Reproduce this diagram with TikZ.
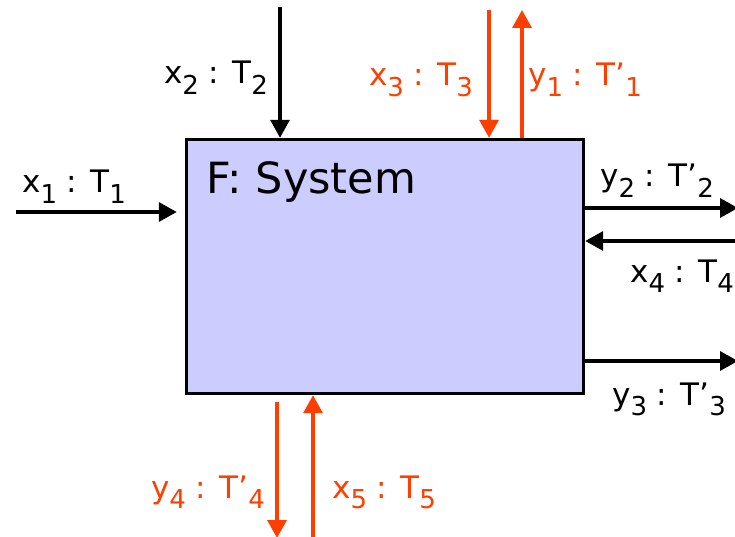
\documentclass[tikz,border=0pt]{standalone}
\usepackage{fontspec}
\setmainfont{DejaVu Sans}
\usepackage{tikz}
\usetikzlibrary{arrows.meta}
\definecolor{flowred}{RGB}{255,62,0}
\definecolor{sysfill}{RGB}{204,204,255}
\newcommand\sbs[1]{\raisebox{-0.33em}{\fontsize{26}{30}\selectfont #1}}

\begin{document}
\begin{tikzpicture}[x=1pt,y=-1pt,>={Triangle[length=18pt,width=19pt]},
  flow/.style={->,line width=3.4pt},
  lbl/.style={inner sep=0pt,font=\fontsize{31}{36}\selectfont},
  sysbox/.style={draw,line width=3.4pt,fill=sysfill,inner sep=0pt,
    minimum width=397pt,minimum height=254pt}]
\useasboundingbox (0,0) rectangle (735,537);
\node[sysbox] (F) at (385,266.5) {};
\node[anchor=base west,inner sep=0pt,font=\fontsize{43}{50}\selectfont] (title) at (206,194) {F: System};
% free ends
\coordinate (x1s) at (16,212);
\coordinate (x2s) at (280,7);
\coordinate (x3s) at (489,10);
\coordinate (y1e) at (522,10);
\coordinate (y2e) at (738,208);
\coordinate (x4s) at (738,241);
\coordinate (y3e) at (738,361);
\coordinate (y4s) at (277,402);
\coordinate (y4e) at (277,538);
\coordinate (x5s) at (313,538);
% inputs and outputs
\draw[flow] (x1s) -- ([xshift=-8pt]x1s -| F.west);
\draw[flow] (x2s) -- (x2s |- F.north);
\draw[flow,flowred] (x3s) -- (x3s |- F.north);
\draw[flow,flowred] (y1e |- F.north) -- (y1e);
\draw[flow] (y2e -| F.east) -- (y2e);
\draw[flow] (x4s) -- (x4s -| F.east);
\draw[flow] (y3e -| F.east) -- (y3e);
\draw[flow,flowred] (y4s) -- (y4e);
\draw[flow,flowred] (x5s) -- (x5s |- F.south);
% labels
\node[lbl,anchor=base west] (lx1) at (22,193) {x\sbs{1} : T\sbs{1}};
\node[lbl,anchor=base east] (lx2) at (268,84) {x\sbs{2} : T\sbs{2}};
\node[lbl,anchor=base east,flowred] (lx3) at (473,86) {x\sbs{3} : T\sbs{3}};
\node[lbl,anchor=base west,flowred] (ly1) at (528,86) {y\sbs{1} : T’\sbs{1}};
\node[lbl,anchor=base west] (ly2) at (600,187) {y\sbs{2} : T’\sbs{2}};
\node[lbl,anchor=base west] (lx4) at (630,282) {x\sbs{4} : T\sbs{4}};
\node[lbl,anchor=base west] (ly3) at (612,405) {y\sbs{3} : T’\sbs{3}};
\node[lbl,anchor=base east,flowred] (ly4) at (265,498) {y\sbs{4} : T’\sbs{4}};
\node[lbl,anchor=base west,flowred] (lx5) at (332,498) {x\sbs{5} : T\sbs{5}};
\end{tikzpicture}
\end{document}
